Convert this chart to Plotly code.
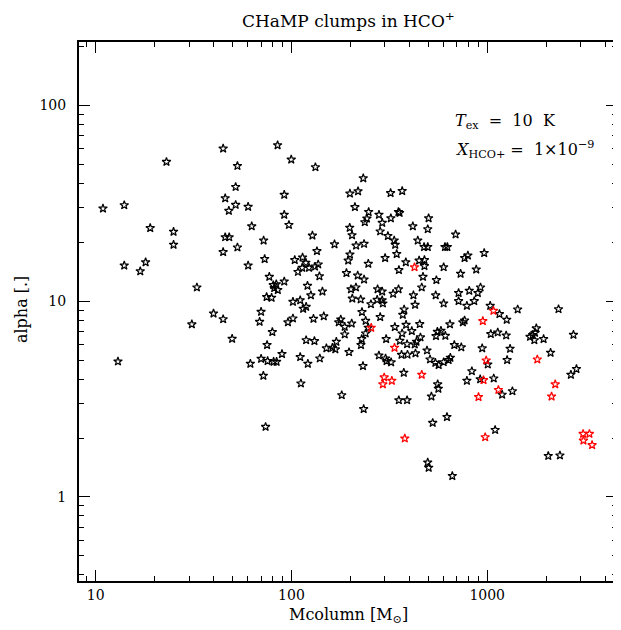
import plotly.graph_objects as go

# Black clumps: Mcolumn [Msun], alpha
mcol_black = [10.9, 14.0, 23.0, 44.8, 53.0, 51.9, 45.9, 51.9, 47.9, 60.1, 19.0, 25.0, 62.7, 25.0, 45.9, 48.1,
              44.8, 53.0, 14.0, 18.0, 16.9, 60.1, 32.9, 13.0, 31.0, 40.0, 44.8, 49.8, 61.7, 85.0, 99.8, 132.6,
              232.8, 91.9, 199, 219, 321, 368, 211, 248, 352, 357, 280, 243, 322, 502, 91.9, 237, 291, 97.1,
              198.5, 417, 497, 284, 204, 311, 128, 72.1, 335, 442, 166, 214, 235, 339, 476, 497, 135, 345,
              73.0, 114, 104, 118.5, 199, 195, 301, 449, 478, 137, 132, 123, 113.5, 108, 247, 384, 478, 354,
              191, 139, 218, 235, 470, 550, 77.1, 91.9, 80.8, 83.7, 81.7, 85.2, 120.8, 144, 74.7, 79.2, 125.7,
              201.5, 213.6, 275.5, 290.8, 330.8, 352.5, 420, 463, 545.6, 101.8, 110.9, 114.8, 118.9, 70.0, 68.8,
              96.0, 101.8, 129.6, 146.3, 79.9, 75.1, 89.5, 118.9, 131.1, 150.9, 161.9, 167.6, 169.6, 70.0, 75.6,
              81.1, 84.0, 71.9, 110.9, 121.3, 139.6, 111.8, 73.8, 180.7, 196.9, 225.8, 204.6, 274.2, 290.8,
              293.2, 254.7, 229.3, 284.1, 376.3, 370.6, 428.2, 174.5, 178.6, 187.2, 203.2, 239.4, 246.9, 239.4,
              187.2, 228.5, 226.6, 337.4, 385.2, 452.3, 367.6, 412, 556.6, 547.5, 304.7, 357.9, 389.8, 426.6,
              435.2, 456.1, 365.1, 391.6, 430.2, 492.6, 279.8, 302.6, 306.2, 323.1, 232, 510.4, 543.6, 375,
              558.5, 563.1, 353.7, 389.8, 518.8, 233.9, 526.8, 496.7, 502.5, 689.6, 608.4, 625.8, 796.8, 766.4,
              965.4, 599.2, 731.2, 879, 924.5, 895.6, 809.9, 714.3, 599.2, 714.3, 787.5, 858.6, 1036, 1155,
              1258, 1431, 2314, 751.2, 766.4, 645.1, 580.5, 611.2, 1043, 1132, 1250, 679.2, 737.4, 943, 1309,
              1782, 1755, 1706, 1655, 1741, 1941, 2758, 2107, 565.1, 599.2, 635.3, 648.2, 1007, 1264, 2857,
              2676, 834.9, 787.5, 921, 1080, 1192, 1345, 622.9, 1098, 2051, 2352, 663.5]
alpha_black = [29.7, 30.9, 51.4, 60.1, 49.0, 38.3, 33.5, 31.0, 28.9, 30.3, 23.6, 22.6, 24.1, 19.4, 21.2, 21.2,
               17.8, 18.8, 15.2, 15.8, 14.2, 15.2, 11.75, 4.92, 7.61, 8.65, 8.09, 6.42, 4.79, 62.5, 52.8, 48.3,
               42.4, 34.9, 35.4, 36.4, 35.6, 36.5, 30.2, 28.5, 28.5, 28.2, 27.6, 26.4, 26.5, 26.5, 27.6, 25.3,
               25.1, 24.5, 23.7, 24.1, 23.3, 22.7, 21.7, 21.5, 21.6, 20.4, 20.4, 20.4, 19.5, 19.2, 19.6, 19.4,
               18.9, 18.9, 18.0, 17.4, 16.4, 16.7, 16.2, 15.7, 17.3, 16.1, 16.6, 16.1, 16.2, 15.4, 15.0, 14.8,
               14.8, 14.1, 15.5, 15.8, 15.1, 14.4, 13.9, 13.4, 13.5, 12.9, 13.3, 12.8, 13.3, 12.6, 12.07, 12.2,
               11.65, 11.4, 11.97, 11.2, 10.5, 10.4, 10.7, 11.5, 11.75, 11.5, 11.2, 10.9, 11.5, 10.7, 11.75,
               10.7, 9.92, 10.1, 9.14, 9.35, 8.82, 7.84, 7.79, 8.16, 8.12, 8.36, 6.95, 5.97, 5.37, 6.32, 6.25,
               5.74, 5.78, 5.67, 6.20, 5.08, 4.94, 4.90, 4.90, 4.16, 5.18, 4.79, 5.10, 3.80, 2.28, 3.31, 5.49,
               10.2, 10.3, 10.15, 10.1, 9.73, 9.65, 8.79, 8.29, 9.07, 8.51, 9.57, 7.79, 8.06, 7.39, 7.69, 7.93,
               7.31, 6.84, 6.76, 6.40, 5.97, 7.37, 7.57, 7.63, 6.84, 7.03, 6.97, 6.63, 6.40, 6.27, 6.03, 6.01,
               6.20, 6.53, 5.32, 5.33, 5.41, 5.60, 5.28, 5.10, 4.94, 4.87, 4.66, 5.04, 4.84, 4.31, 3.76, 3.57,
               3.12, 3.12, 3.26, 2.81, 2.39, 1.50, 1.41, 21.9, 18.9, 18.9, 17.1, 16.6, 17.6, 14.9, 13.8, 14.5,
               11.75, 11.0, 11.3, 11.0, 9.73, 10.0, 9.46, 10.0, 9.46, 8.59, 8.03, 9.07, 9.10, 7.79, 7.97, 7.61,
               7.06, 6.65, 6.79, 6.92, 6.68, 5.97, 5.81, 5.74, 5.71, 7.26, 6.89, 6.71, 6.57, 6.32, 6.40, 6.73,
               5.45, 4.72, 4.88, 5.00, 5.14, 4.75, 5.00, 4.50, 4.21, 4.39, 3.92, 3.99, 4.03, 3.33, 3.47, 2.56,
               2.20, 1.62, 1.63, 1.28]

# Red clumps
mcol_red = [425.2, 255.6, 336.2, 463, 297.7, 325.8, 293.2, 379.4, 1076, 949.8, 988.3, 1803, 957.4, 2226,
            903, 1141, 2132, 976.8, 3090, 3327, 3101, 3435]
alpha_red = [14.9, 7.31, 5.78, 4.21, 4.08, 3.92, 3.76, 1.99, 8.92, 7.91, 4.98, 5.04, 3.95, 3.76,
             3.24, 3.52, 3.26, 2.02, 2.10, 2.10, 1.94, 1.84]

x_tickvals = [10, 100, 1000]
x_ticktext = ["10", "100", "1000"]
y_tickvals = [1, 10, 100]
y_ticktext = ["1", "10", "100"]

FONT = "DejaVu Serif"
NB = "\u00a0"

fig = go.Figure()
fig.add_trace(go.Scatter(x=mcol_black, y=alpha_black, mode="markers",
                         marker=dict(symbol="star-open", size=6.5, color="black", line=dict(width=1.2, color="black")),
                         showlegend=False))
fig.add_trace(go.Scatter(x=mcol_red, y=alpha_red, mode="markers",
                         marker=dict(symbol="star-open", size=6.5, color="red", line=dict(width=1.2, color="red")),
                         showlegend=False))

axis_common = dict(
    type="log", showgrid=False, zeroline=False, showline=True, linecolor="black", linewidth=2,
    mirror="ticks", ticks="inside", ticklen=11, tickwidth=1.3, tickcolor="black",
    tickfont=dict(family=FONT, size=14, color="black"),
    minor=dict(ticks="inside", ticklen=5, tickwidth=1.3, tickcolor="black", dtick="D1", showgrid=False),
)

fig.update_xaxes(range=[0.915, 3.663], tickvals=x_tickvals, ticktext=x_ticktext,
                 ticklabelstandoff=0, **axis_common)
fig.update_yaxes(range=[-0.429, 2.323], tickvals=y_tickvals, ticktext=y_ticktext,
                 ticklabelstandoff=8, **axis_common)

txt_font = dict(family=FONT, size=16, color="black")
fig.update_layout(
    width=613, height=622,
    margin=dict(l=71, r=2, t=34, b=49),
    paper_bgcolor="white", plot_bgcolor="white",
    annotations=[
        dict(text="CHaMP clumps in HCO<sup>+</sup>", xref="paper", yref="paper", x=0.5, y=1.0408,
             xanchor="center", yanchor="middle", showarrow=False, font=dict(family=FONT, size=17, color="black")),
        dict(text="Mcolumn [M<sub>⊙</sub>]", xref="paper", yref="paper", x=0.5, y=-0.064,
             xanchor="center", yanchor="middle", showarrow=False, font=txt_font),
        dict(text="alpha [.]", xref="paper", yref="paper", x=-0.1056, y=0.503, textangle=-90,
             xanchor="center", yanchor="middle", showarrow=False, font=txt_font),
        dict(text=f"<i>T</i><sub>ex</sub>{NB}{NB}={NB}{NB}10{NB}{NB}K", xref="paper", yref="paper", x=0.696, y=0.852,
             xanchor="left", yanchor="middle", showarrow=False, font=txt_font),
        dict(text=f"<i>X</i><sub>HCO+</sub>{NB}={NB}{NB}1×10<sup>−9</sup>", xref="paper", yref="paper", x=0.696, y=0.800,
             xanchor="left", yanchor="middle", showarrow=False, font=txt_font),
    ],
)

fig.write_html("out.html")
